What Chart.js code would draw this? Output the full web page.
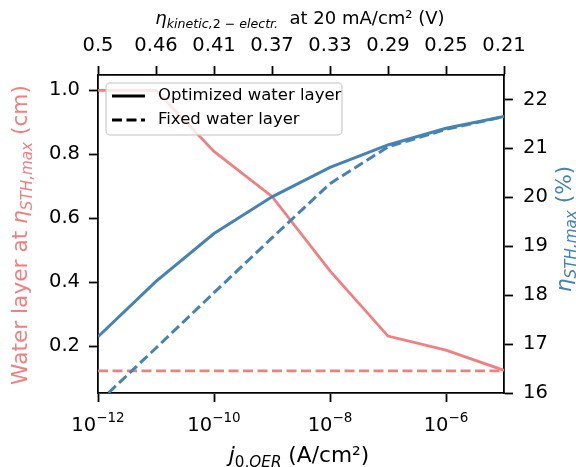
<!DOCTYPE html>
<html>
<head>
<meta charset="utf-8">
<script src="https://cdn.jsdelivr.net/npm/chart.js@4.4.0/dist/chart.umd.min.js"></script>
<style>
  html, body { margin: 0; padding: 0; background: #fff; }
  #wrap { width: 576px; height: 467px; }
</style>
</head>
<body>
<div id="wrap"><canvas id="ChartCanvas" width="576" height="467"></canvas></div>
<script>
// exchange current density j0,OER (A/cm²), one point per decade
var currentDensity = [1e-12, 1e-11, 1e-10, 1e-9, 1e-8, 1e-7, 1e-6, 1e-5];
// matching kinetic overpotential shown on the top axis (V)
var overpotentialLabels = ['0.5', '0.46', '0.41', '0.37', '0.33', '0.29', '0.25', '0.21'];

// max STH efficiency (%), right axis
var sthOptimized = [17.15, 18.28, 19.26, 20.01, 20.61, 21.07, 21.41, 21.65];
var sthFixed = [15.80, 16.92, 18.05, 19.17, 20.28, 21.03, 21.39, 21.65];

// water layer at max STH (cm), left axis
var waterOptimized = [1.0, 1.0, 0.809, 0.668, 0.435, 0.231, 0.187, 0.124];
var waterFixed = [0.122, 0.122, 0.122, 0.122, 0.122, 0.122, 0.122, 0.122];

var leftTicks = [0.2, 0.4, 0.6, 0.8, 1.0];
var rightTicks = [16, 17, 18, 19, 20, 21, 22];
var bottomTicks = [1e-12, 1e-10, 1e-8, 1e-6];

var blue = '#4682B4';   // steelblue
var pink = '#F08080';   // lightcoral
var FONT = '"DejaVu Sans", "Liberation Sans", sans-serif';

function pairs(xs, ys) {
    return xs.map(function (x, i) { return { x: x, y: ys[i] }; });
}

// draws a label made of several runs (normal / italic / subscript)
function drawRich(ctx, parts, cx, cy, angle, color) {
    ctx.save();
    ctx.translate(cx, cy);
    ctx.rotate(angle);
    var total = 0;
    parts.forEach(function (p) {
        ctx.font = p.font;
        p.w = ctx.measureText(p.text).width;
        total += p.w;
    });
    var x = -total / 2;
    ctx.fillStyle = color;
    ctx.textBaseline = 'alphabetic';
    ctx.textAlign = 'left';
    parts.forEach(function (p) {
        ctx.font = p.font;
        ctx.fillText(p.text, x, p.dy || 0);
        x += p.w;
    });
    ctx.restore();
}

var textPlugin = {
    id: 'textPlugin',
    afterDraw: function (chart) {
        var ctx = chart.ctx;
        var xs = chart.scales.x;

        // bottom tick labels 10^n
        bottomTicks.forEach(function (v) {
            var px = xs.getPixelForValue(v);
            var exp = '\u2212' + Math.abs(Math.round(Math.log10(v)));
            ctx.save();
            ctx.font = '19.5px ' + FONT;
            var wb = ctx.measureText('10').width;
            ctx.font = '13.5px ' + FONT;
            var we = ctx.measureText(exp).width;
            var x0 = px - (wb + we) / 2;
            ctx.fillStyle = '#000';
            ctx.textBaseline = 'alphabetic';
            ctx.textAlign = 'left';
            ctx.font = '19.5px ' + FONT;
            ctx.fillText('10', x0, 430.5);
            ctx.font = '13.5px ' + FONT;
            ctx.fillText(exp, x0 + wb, 421.5);
            ctx.restore();
        });

        // axis titles
        drawRich(ctx, [
            { text: 'j', font: 'italic 21.7px ' + FONT },
            { text: '0,', font: '15.2px ' + FONT, dy: 5 },
            { text: 'OER', font: 'italic 15.2px ' + FONT, dy: 5 },
            { text: ' (A/cm\u00B2)', font: '21.7px ' + FONT }
        ], 299, 462, 0, '#000');

        drawRich(ctx, [
            { text: '\u03B7', font: 'italic 18px ' + FONT },
            { text: 'kinetic,', font: 'italic 12.6px ' + FONT, dy: 4 },
            { text: '2 \u2212 ', font: '12.6px ' + FONT, dy: 4 },
            { text: 'electr.', font: 'italic 12.6px ' + FONT, dy: 4 },
            { text: '  at 20 mA/cm\u00B2 (V)', font: '18px ' + FONT }
        ], 300, 24, 0, '#000');

        drawRich(ctx, [
            { text: 'Water layer at ', font: '21.7px ' + FONT },
            { text: '\u03B7', font: 'italic 21.7px ' + FONT },
            { text: 'STH,max', font: 'italic 15.2px ' + FONT, dy: 5 },
            { text: ' (cm)', font: '21.7px ' + FONT }
        ], 27, 235, -Math.PI / 2, pink);

        drawRich(ctx, [
            { text: '\u03B7', font: 'italic 21.7px ' + FONT },
            { text: 'STH,max', font: 'italic 15.2px ' + FONT, dy: 5 },
            { text: ' (%)', font: '21.7px ' + FONT }
        ], 571, 229, -Math.PI / 2, blue);

        // legend
        ctx.save();
        var lx = 106, ly = 83, lw = 236, lh = 52, r = 4;
        ctx.beginPath();
        ctx.moveTo(lx + r, ly);
        ctx.arcTo(lx + lw, ly, lx + lw, ly + lh, r);
        ctx.arcTo(lx + lw, ly + lh, lx, ly + lh, r);
        ctx.arcTo(lx, ly + lh, lx, ly, r);
        ctx.arcTo(lx, ly, lx + lw, ly, r);
        ctx.closePath();
        ctx.fillStyle = 'rgba(255,255,255,0.8)';
        ctx.fill();
        ctx.strokeStyle = 'rgba(204,204,204,0.8)';
        ctx.lineWidth = 1.5;
        ctx.stroke();

        ctx.strokeStyle = '#000';
        ctx.lineWidth = 2.8;
        ctx.beginPath();
        ctx.moveTo(112, 96);
        ctx.lineTo(145, 96);
        ctx.stroke();
        ctx.setLineDash([10, 4.5]);
        ctx.beginPath();
        ctx.moveTo(112, 120);
        ctx.lineTo(145, 120);
        ctx.stroke();
        ctx.setLineDash([]);

        ctx.fillStyle = '#000';
        ctx.font = '16.5px ' + FONT;
        ctx.textBaseline = 'middle';
        ctx.textAlign = 'left';
        ctx.fillText('Optimized water layer', 158, 96);
        ctx.fillText('Fixed water layer', 158, 120);
        ctx.restore();
    }
};

function axisLook(extra) {
    var base = {
        grid: { display: true, drawOnChartArea: false, drawTicks: true, tickLength: 9, tickWidth: 1.8, tickColor: '#000' },
        border: { display: true, color: '#000', width: 1.8 }
    };
    return Object.assign(base, extra);
}

var chartContext = document.getElementById('ChartCanvas').getContext('2d');

var config = {
    type: 'line',
    data: {
        datasets: [
            {
                data: pairs(currentDensity, sthOptimized),
                borderColor: blue, borderWidth: 3,
                xAxisID: 'x', yAxisID: 'y2'
            },
            {
                data: pairs(currentDensity, sthFixed),
                borderColor: blue, borderWidth: 3, borderDash: [10, 4.5],
                xAxisID: 'x', yAxisID: 'y2'
            },
            {
                data: pairs(currentDensity, waterOptimized),
                borderColor: pink, borderWidth: 2.8,
                xAxisID: 'x', yAxisID: 'y'
            },
            {
                data: pairs(currentDensity, waterFixed),
                borderColor: pink, borderWidth: 2.8, borderDash: [10, 4.5],
                xAxisID: 'x', yAxisID: 'y'
            }
        ]
    },
    options: {
        responsive: false,
        animation: false,
        devicePixelRatio: 1,
        layout: { padding: 0 },
        elements: { point: { radius: 0 }, line: { tension: 0, fill: false } },
        plugins: { legend: { display: false }, tooltip: { enabled: false } },
        scales: {
            x: axisLook({
                type: 'logarithmic', position: 'bottom',
                min: 1e-12, max: 1e-5,
                afterBuildTicks: function (scale) {
                    scale.ticks = bottomTicks.map(function (v) { return { value: v }; });
                },
                afterFit: function (scale) { scale.height = 74; },
                ticks: { autoSkip: false, maxRotation: 0, callback: function () { return ''; } }
            }),
            x2: axisLook({
                type: 'logarithmic', position: 'top',
                min: 1e-12, max: 1e-5,
                afterBuildTicks: function (scale) {
                    scale.ticks = currentDensity.map(function (v) { return { value: v }; });
                },
                afterFit: function (scale) { scale.height = 75; },
                ticks: {
                    autoSkip: false, maxRotation: 0, padding: 8, color: '#000',
                    font: { family: FONT, size: 19.5 },
                    callback: function (v, i) { return overpotentialLabels[i]; }
                }
            }),
            y: axisLook({
                type: 'linear', position: 'left',
                min: 0.053, max: 1.048,
                afterBuildTicks: function (scale) {
                    scale.ticks = leftTicks.map(function (v) { return { value: v }; });
                },
                afterFit: function (scale) { scale.width = 98; },
                ticks: {
                    padding: 9, color: '#000',
                    font: { family: FONT, size: 19.5 },
                    callback: function (v) { return v.toFixed(1); }
                }
            }),
            y2: axisLook({
                type: 'linear', position: 'right',
                min: 16, max: 22.5,
                afterBuildTicks: function (scale) {
                    scale.ticks = rightTicks.map(function (v) { return { value: v }; });
                },
                afterFit: function (scale) { scale.width = 72; },
                ticks: {
                    padding: 10, color: '#000',
                    font: { family: FONT, size: 19.5 },
                    callback: function (v) { return String(v); }
                }
            })
        }
    },
    plugins: [textPlugin]
};

var createdChart = new Chart(chartContext, config);
</script>
</body>
</html>
